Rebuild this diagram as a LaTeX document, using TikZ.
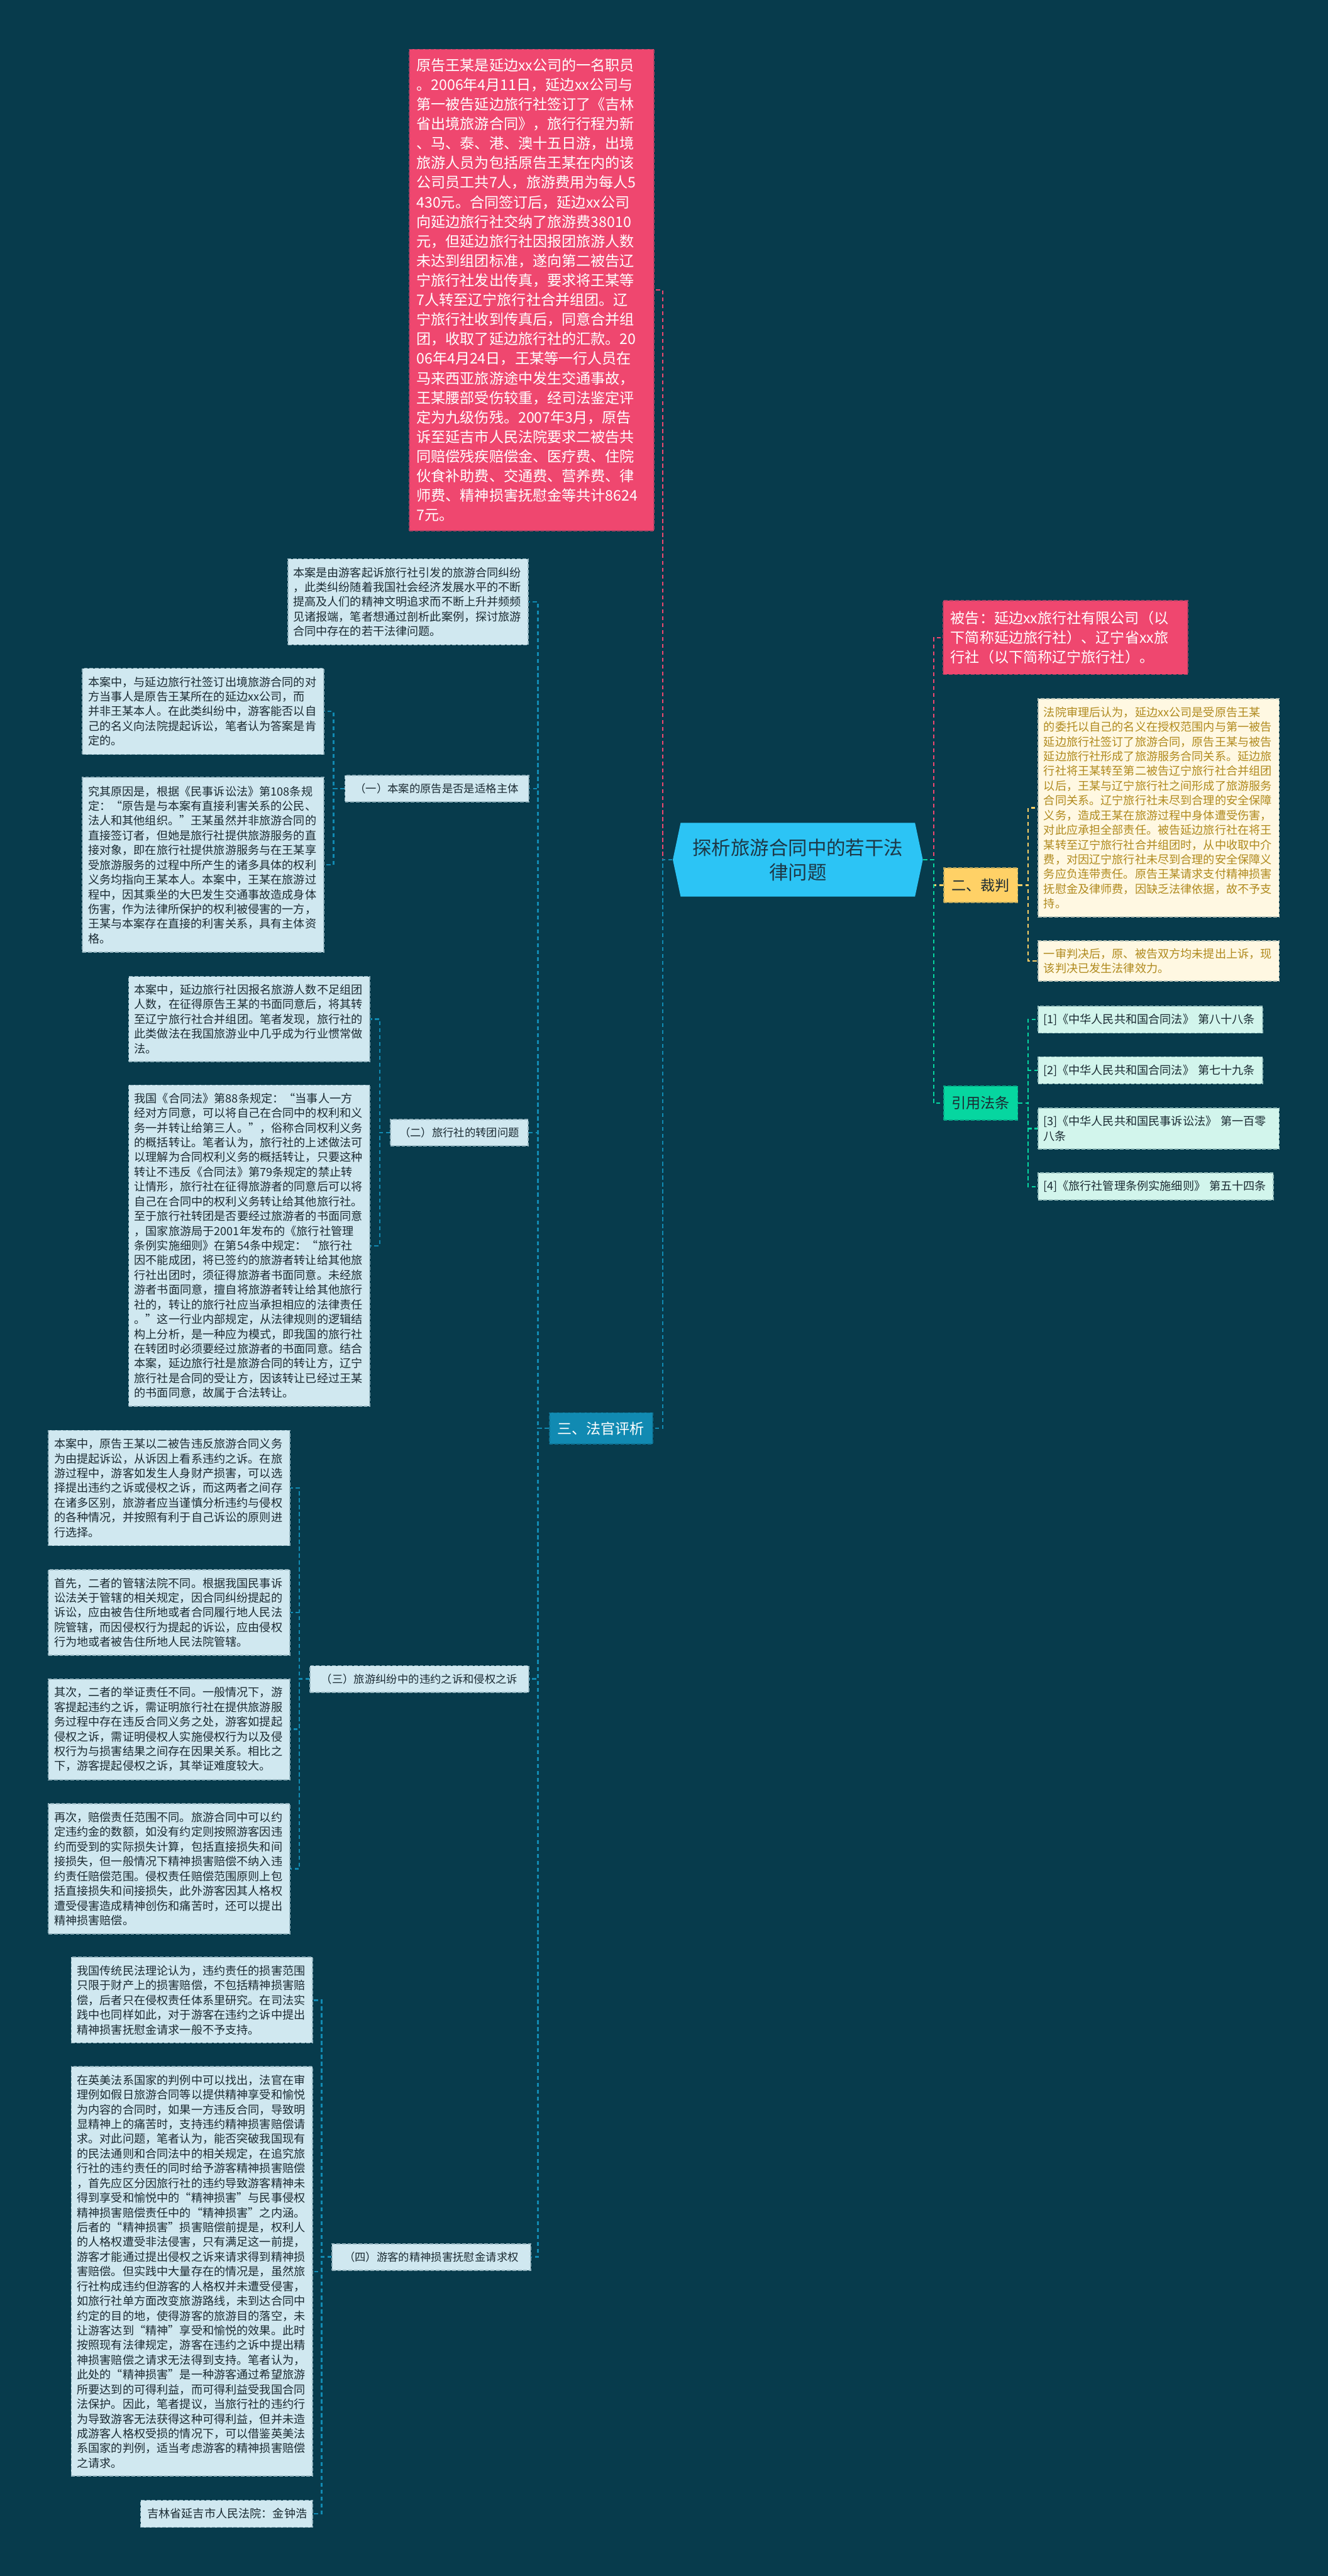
\documentclass[tikz,border=0pt]{standalone}
\usepackage{fontspec}
\setmainfont{Noto Sans CJK SC}
\usepackage{tikz}
\usetikzlibrary{shapes.symbols}
\usepackage{xcolor}
\definecolor{bgteal}{HTML}{073B4C}
\definecolor{rosered}{HTML}{EF476F}
\definecolor{sunyellow}{HTML}{FFD166}
\definecolor{mintgreen}{HTML}{06D6A0}
\definecolor{seablue}{HTML}{118AB2}
\definecolor{skyblue}{HTML}{2CC4F5}
\definecolor{paleblue}{HTML}{D0E8F0}
\definecolor{palecream}{HTML}{FFF8E2}
\definecolor{palemint}{HTML}{D2F5EC}
\definecolor{goldtext}{HTML}{B08A1E}
\definecolor{inkdark}{HTML}{1B2B33}
\definecolor{titleink}{HTML}{1D3847}
\newcommand{\fnote}{\fontsize{6.26pt}{8.08pt}\selectfont}
\newcommand{\ftopic}{\fontsize{5.98pt}{7.6pt}\selectfont}
\newcommand{\fhead}{\fontsize{7.97pt}{10.73pt}\selectfont}
\newcommand{\ftitle}{\fontsize{10.5pt}{13.4pt}\selectfont}

\begin{document}
\begin{tikzpicture}[
    link/.style={draw=#1, line width=0.85pt, dash pattern=on 2.2pt off 1.6pt},
    card/.style={rectangle, draw=#1!70!bgteal, fill=#1, line width=0.6pt,
                 dash pattern=on 2pt off 1pt, inner sep=0pt, align=left},
    note/.style={card=paleblue, text=inkdark, font=\fnote,
                 minimum width=4.65cm, text width=4.43cm},
    topic/.style={card=paleblue, text=inkdark, font=\ftopic, align=center, minimum height=0.51cm},
    branch/.style={card=#1, font=\fhead, align=center, minimum width=1.43cm, minimum height=0.66cm},
    verdictnote/.style={card=palecream, text=goldtext, font=\fnote,
                 minimum width=4.65cm, text width=4.43cm},
    lawnote/.style={card=palemint, text=inkdark, font=\fnote, minimum height=0.52cm},
]
    \useasboundingbox (0,0) rectangle (25.60,-49.65);
    \fill[bgteal] (0,0) rectangle (25.60,-49.65);

    % centre
    \node[signal, signal to=west and east, signal pointer angle=156, fill=skyblue,
          minimum width=4.82cm, minimum height=1.42cm, inner sep=0pt,
          text width=4.3cm, align=center, font=\ftitle, text=titleink]
        (root) at (15.38,-16.57) {探析旅游合同中的若干法\\律问题};

    % case facts (left, top)
    \node[card=rosered, text=white, font=\fhead, minimum width=4.72cm, minimum height=9.28cm,
          text width=4.44cm] (facts) at (10.25,-5.59) {原告王某是延边xx公司的一名职员\\
。2006年4月11日，延边xx公司与\\
第一被告延边旅行社签订了《吉林\\
省出境旅游合同》，旅行行程为新\\
、马、泰、港、澳十五日游，出境\\
旅游人员为包括原告王某在内的该\\
公司员工共7人，旅游费用为每人5\\
430元。合同签订后，延边xx公司\\
向延边旅行社交纳了旅游费38010\\
元，但延边旅行社因报团旅游人数\\
未达到组团标准，遂向第二被告辽\\
宁旅行社发出传真，要求将王某等\\
7人转至辽宁旅行社合并组团。辽\\
宁旅行社收到传真后，同意合并组\\
团，收取了延边旅行社的汇款。20\\
06年4月24日，王某等一行人员在\\
马来西亚旅游途中发生交通事故，\\
王某腰部受伤较重，经司法鉴定评\\
定为九级伤残。2007年3月，原告\\
诉至延吉市人民法院要求二被告共\\
同赔偿残疾赔偿金、医疗费、住院\\
伙食补助费、交通费、营养费、律\\
师费、精神损害抚慰金等共计8624\\
7元。};

    % right side
    \node[card=rosered, text=white, font=\fhead, minimum width=4.71cm, minimum height=1.42cm,
          text width=4.43cm] (defendant) at (20.54,-12.29) {被告：延边xx旅行社有限公司（以\\
下简称延边旅行社）、辽宁省xx旅\\
行社（以下简称辽宁旅行社）。};

    \node[branch=sunyellow, text=inkdark] (verdict) at (18.905,-17.06) {二、裁判};
    \node[verdictnote, minimum height=4.21cm] (ruling) at (22.335,-15.57) {法院审理后认为，延边xx公司是受原告王某\\
的委托以自己的名义在授权范围内与第一被告\\
延边旅行社签订了旅游合同，原告王某与被告\\
延边旅行社形成了旅游服务合同关系。延边旅\\
行社将王某转至第二被告辽宁旅行社合并组团\\
以后，王某与辽宁旅行社之间形成了旅游服务\\
合同关系。辽宁旅行社未尽到合理的安全保障\\
义务，造成王某在旅游过程中身体遭受伤害，\\
对此应承担全部责任。被告延边旅行社在将王\\
某转至辽宁旅行社合并组团时，从中收取中介\\
费，对因辽宁旅行社未尽到合理的安全保障义\\
务应负连带责任。原告王某请求支付精神损害\\
抚慰金及律师费，因缺乏法律依据，故不予支\\
持。};
    \node[verdictnote, minimum height=0.78cm] (final) at (22.335,-18.52) {一审判决后，原、被告双方均未提出上诉，现\\
该判决已发生法律效力。};

    \node[branch=mintgreen, text=inkdark] (laws) at (18.905,-21.26) {引用法条};
    \node[lawnote, minimum width=4.33cm, text width=4.13cm] (lawa) at (22.175,-19.65) {[1]《中华人民共和国合同法》 第八十八条};
    \node[lawnote, minimum width=4.33cm, text width=4.13cm] (lawb) at (22.175,-20.63) {[2]《中华人民共和国合同法》 第七十九条};
    \node[lawnote, minimum width=4.65cm, text width=4.45cm, minimum height=0.79cm] (lawc) at (22.335,-21.75) {[3]《中华人民共和国民事诉讼法》 第一百零\\八条};
    \node[lawnote, minimum width=4.54cm, text width=4.34cm] (lawd) at (22.28,-22.87) {[4]《旅行社管理条例实施细则》 第五十四条};

    % judge's review (left)
    \node[branch=seablue, text=white, minimum width=1.99cm, minimum height=0.60cm] (review) at (11.585,-27.53) {三、法官评析};

    \node[note, minimum width=4.63cm, minimum height=1.66cm] (intro) at (7.865,-11.60) {本案是由游客起诉旅行社引发的旅游合同纠纷\\
，此类纠纷随着我国社会经济发展水平的不断\\
提高及人们的精神文明追求而不断上升并频频\\
见诸报端，笔者想通过剖析此案例，探讨旅游\\
合同中存在的若干法律问题。};

    \node[topic, minimum width=3.54cm] (partA) at (8.42,-15.20) {（一）本案的原告是否是适格主体};
    \node[note, minimum height=1.66cm] (partAa) at (3.915,-13.71) {本案中，与延边旅行社签订出境旅游合同的对\\
方当事人是原告王某所在的延边xx公司，而\\
并非王某本人。在此类纠纷中，游客能否以自\\
己的名义向法院提起诉讼，笔者认为答案是肯\\
定的。};
    \node[note, minimum height=3.37cm] (partAb) at (3.915,-16.67) {究其原因是，根据《民事诉讼法》第108条规\\
定：“原告是与本案有直接利害关系的公民、\\
法人和其他组织。”王某虽然并非旅游合同的\\
直接签订者，但她是旅行社提供旅游服务的直\\
接对象，即在旅行社提供旅游服务与在王某享\\
受旅游服务的过程中所产生的诸多具体的权利\\
义务均指向王某本人。本案中，王某在旅游过\\
程中，因其乘坐的大巴发生交通事故造成身体\\
伤害，作为法律所保护的权利被侵害的一方，\\
王某与本案存在直接的利害关系，具有主体资\\
格。};

    \node[topic, minimum width=2.65cm] (partB) at (8.855,-21.83) {（二）旅行社的转团问题};
    \node[note, minimum height=1.64cm] (partBa) at (4.805,-19.64) {本案中，延边旅行社因报名旅游人数不足组团\\
人数，在征得原告王某的书面同意后，将其转\\
至辽宁旅行社合并组团。笔者发现，旅行社的\\
此类做法在我国旅游业中几乎成为行业惯常做\\
法。};
    \node[note, minimum height=6.19cm] (partBb) at (4.805,-24.01) {我国《合同法》第88条规定：“当事人一方\\
经对方同意，可以将自己在合同中的权利和义\\
务一并转让给第三人。”，俗称合同权利义务\\
的概括转让。笔者认为，旅行社的上述做法可\\
以理解为合同权利义务的概括转让，只要这种\\
转让不违反《合同法》第79条规定的禁止转\\
让情形，旅行社在征得旅游者的同意后可以将\\
自己在合同中的权利义务转让给其他旅行社。\\
至于旅行社转团是否要经过旅游者的书面同意\\
，国家旅游局于2001年发布的《旅行社管理\\
条例实施细则》在第54条中规定：“旅行社\\
因不能成团，将已签约的旅游者转让给其他旅\\
行社出团时，须征得旅游者书面同意。未经旅\\
游者书面同意，擅自将旅游者转让给其他旅行\\
社的，转让的旅行社应当承担相应的法律责任\\
。”这一行业内部规定，从法律规则的逻辑结\\
构上分析，是一种应为模式，即我国的旅行社\\
在转团时必须要经过旅游者的书面同意。结合\\
本案，延边旅行社是旅游合同的转让方，辽宁\\
旅行社是合同的受让方，因该转让已经过王某\\
的书面同意，故属于合法转让。};

    \node[topic, minimum width=4.21cm] (partC) at (8.085,-32.36) {（三）旅游纠纷中的违约之诉和侵权之诉};
    \node[note, minimum height=2.22cm] (partCa) at (3.26,-28.68) {本案中，原告王某以二被告违反旅游合同义务\\
为由提起诉讼，从诉因上看系违约之诉。在旅\\
游过程中，游客如发生人身财产损害，可以选\\
择提出违约之诉或侵权之诉，而这两者之间存\\
在诸多区别，旅游者应当谨慎分析违约与侵权\\
的各种情况，并按照有利于自己诉讼的原则进\\
行选择。};
    \node[note, minimum height=1.65cm] (partCb) at (3.26,-31.08) {首先，二者的管辖法院不同。根据我国民事诉\\
讼法关于管辖的相关规定，因合同纠纷提起的\\
诉讼，应由被告住所地或者合同履行地人民法\\
院管辖，而因侵权行为提起的诉讼，应由侵权\\
行为地或者被告住所地人民法院管辖。};
    \node[note, minimum height=1.94cm] (partCc) at (3.26,-33.33) {其次，二者的举证责任不同。一般情况下，游\\
客提起违约之诉，需证明旅行社在提供旅游服\\
务过程中存在违反合同义务之处，游客如提起\\
侵权之诉，需证明侵权人实施侵权行为以及侵\\
权行为与损害结果之间存在因果关系。相比之\\
下，游客提起侵权之诉，其举证难度较大。};
    \node[note, minimum height=2.51cm] (partCd) at (3.26,-36.02) {再次，赔偿责任范围不同。旅游合同中可以约\\
定违约金的数额，如没有约定则按照游客因违\\
约而受到的实际损失计算，包括直接损失和间\\
接损失，但一般情况下精神损害赔偿不纳入违\\
约责任赔偿范围。侵权责任赔偿范围原则上包\\
括直接损失和间接损失，此外游客因其人格权\\
遭受侵害造成精神创伤和痛苦时，还可以提出\\
精神损害赔偿。};

    \node[topic, minimum width=3.83cm] (partD) at (8.315,-43.50) {（四）游客的精神损害抚慰金请求权};
    \node[note, minimum height=1.65cm] (partDa) at (3.70,-38.55) {我国传统民法理论认为，违约责任的损害范围\\
只限于财产上的损害赔偿，不包括精神损害赔\\
偿，后者只在侵权责任体系里研究。在司法实\\
践中也同样如此，对于游客在违约之诉中提出\\
精神损害抚慰金请求一般不予支持。};
    \node[note, minimum height=7.89cm] (partDb) at (3.70,-43.78) {在英美法系国家的判例中可以找出，法官在审\\
理例如假日旅游合同等以提供精神享受和愉悦\\
为内容的合同时，如果一方违反合同，导致明\\
显精神上的痛苦时，支持违约精神损害赔偿请\\
求。对此问题，笔者认为，能否突破我国现有\\
的民法通则和合同法中的相关规定，在追究旅\\
行社的违约责任的同时给予游客精神损害赔偿\\
，首先应区分因旅行社的违约导致游客精神未\\
得到享受和愉悦中的“精神损害”与民事侵权\\
精神损害赔偿责任中的“精神损害”之内涵。\\
后者的“精神损害”损害赔偿前提是，权利人\\
的人格权遭受非法侵害，只有满足这一前提，\\
游客才能通过提出侵权之诉来请求得到精神损\\
害赔偿。但实践中大量存在的情况是，虽然旅\\
行社构成违约但游客的人格权并未遭受侵害，\\
如旅行社单方面改变旅游路线，未到达合同中\\
约定的目的地，使得游客的旅游目的落空，未\\
让游客达到“精神”享受和愉悦的效果。此时\\
按照现有法律规定，游客在违约之诉中提出精\\
神损害赔偿之请求无法得到支持。笔者认为，\\
此处的“精神损害”是一种游客通过希望旅游\\
所要达到的可得利益，而可得利益受我国合同\\
法保护。因此，笔者提议，当旅行社的违约行\\
为导致游客无法获得这种可得利益，但并未造\\
成游客人格权受损的情况下，可以借鉴英美法\\
系国家的判例，适当考虑游客的精神损害赔偿\\
之请求。};
    \node[note, minimum width=3.31cm, text width=3.11cm, minimum height=0.52cm, align=right] (author) at (4.365,-48.45) {吉林省延吉市人民法院：金钟浩};

    % connectors
    \draw[link=rosered] (root.west) -- ++(-0.19,0) |- (facts.east);
    \draw[link=seablue] (root.west) -- ++(-0.19,0) |- (review.east);
    \draw[link=rosered] (root.east) -- ++(0.20,0) |- (defendant.west);
    \draw[link=sunyellow] (root.east) -- ++(0.20,0) |- (verdict.west);
    \draw[link=mintgreen] (root.east) -- ++(0.20,0) |- (laws.west);

    \draw[link=sunyellow] (verdict.east) -- ++(0.19,0) |- (ruling.west);
    \draw[link=sunyellow] (verdict.east) -- ++(0.19,0) |- (final.west);
    \foreach \leaf in {lawa,lawb,lawc,lawd}
        \draw[link=mintgreen] (laws.east) -- ++(0.19,0) |- (\leaf.west);

    \foreach \leaf in {intro,partA,partB,partC,partD}
        \draw[link=seablue] (review.west) -- ++(-0.21,0) |- (\leaf.east);
    \foreach \leaf in {partAa,partAb}
        \draw[link=seablue] (partA.west) -- ++(-0.21,0) |- (\leaf.east);
    \foreach \leaf in {partBa,partBb}
        \draw[link=seablue] (partB.west) -- ++(-0.20,0) |- (\leaf.east);
    \foreach \leaf in {partCa,partCb,partCc,partCd}
        \draw[link=seablue] (partC.west) -- ++(-0.20,0) |- (\leaf.east);
    \foreach \leaf in {partDa,partDb,author}
        \draw[link=seablue] (partD.west) -- ++(-0.19,0) |- (\leaf.east);
\end{tikzpicture}
\end{document}
